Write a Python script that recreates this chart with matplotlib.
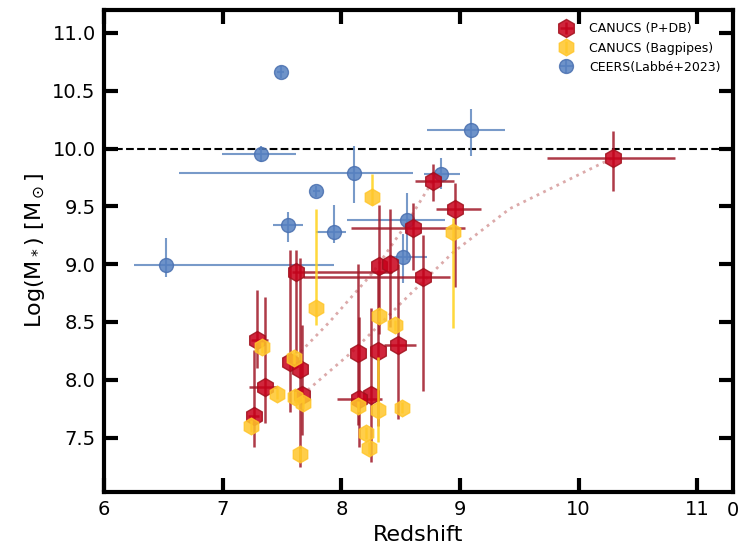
import numpy as np
import matplotlib
matplotlib.use('Agg')
import matplotlib.pyplot as plt

# CANUCS (P+DB)
red_z = [10.29, 8.77, 8.96, 8.60, 8.69, 8.32, 8.41, 7.62, 7.29, 7.36, 7.26, 7.57, 7.65, 7.67, 8.14, 8.31, 8.48, 8.25, 8.15]
red_m = [9.92, 9.72, 9.48, 9.31, 8.89, 8.98, 9.00, 8.93, 8.34, 7.94, 7.69, 8.15, 8.09, 7.87, 8.23, 8.25, 8.30, 7.87, 7.83]
red_zlo = [0.56, 0.15, 0.16, 0.52, 1.01, 0.0, 0.0, 0.04, 0.05, 0.14, 0.05, 0.0, 0.0, 0.0, 0.0, 0.0, 0.12, 0.0, 0.19]
red_zhi = [0.52, 0.18, 0.22, 0.44, 0.23, 0.0, 0.0, 0.81, 0.09, 0.10, 0.05, 0.0, 0.0, 0.0, 0.0, 0.0, 0.15, 0.0, 0.19]
red_mlo = [0.29, 0.17, 0.68, 0.36, 0.99, 0.58, 0.54, 0.70, 0.24, 0.31, 0.27, 0.43, 0.84, 0.35, 0.62, 0.65, 0.64, 0.58, 0.41]
red_mhi = [0.23, 0.15, 0.22, 0.22, 0.36, 0.53, 0.48, 0.19, 0.44, 0.78, 0.57, 0.97, 0.96, 0.60, 0.77, 0.70, 0.70, 0.75, 0.71]

# CANUCS (Bagpipes)
yel_z = [8.26, 8.94, 7.79, 7.33, 7.46, 7.24, 7.60, 7.61, 7.68, 7.65, 8.32, 8.45, 8.14, 8.31, 8.51, 8.21, 8.23]
yel_m = [9.58, 9.28, 8.62, 8.28, 7.88, 7.60, 8.19, 7.85, 7.80, 7.36, 8.55, 8.47, 7.77, 7.74, 7.76, 7.54, 7.41]
yel_mlo = [0.07, 0.83, 0.15, 0.05, 0.05, 0.05, 0.05, 0.05, 0.05, 0.05, 0.05, 0.05, 0.05, 0.28, 0.05, 0.05, 0.05]
yel_mhi = [0.20, 0.12, 0.86, 0.05, 0.05, 0.05, 0.05, 0.05, 0.05, 0.05, 0.05, 0.05, 0.05, 0.46, 0.05, 0.05, 0.05]

# CEERS (Labbe+2023)
blu_z = [7.49, 7.32, 8.11, 7.79, 7.55, 7.94, 6.52, 8.55, 8.52, 8.84, 9.09]
blu_m = [10.66, 9.95, 9.79, 9.63, 9.34, 9.28, 8.99, 9.38, 9.06, 9.78, 10.16]
blu_zlo = [0.03, 0.33, 1.48, 0.03, 0.13, 0.15, 0.27, 0.50, 0.12, 0.14, 0.37]
blu_zhi = [0.03, 0.30, 0.49, 0.03, 0.13, 0.10, 1.42, 0.32, 0.20, 0.16, 0.29]
blu_mlo = [0.05, 0.07, 0.26, 0.05, 0.15, 0.10, 0.10, 0.34, 0.22, 0.13, 0.22]
blu_mhi = [0.05, 0.07, 0.23, 0.05, 0.11, 0.23, 0.24, 0.24, 0.20, 0.14, 0.18]

# dotted growth tracks
trackA_z = [7.57, 7.9, 8.26, 8.55, 8.77]
trackA_m = [8.15, 8.50, 8.92, 9.35, 9.72]
trackB_z = [7.67, 8.1, 8.5, 8.94, 9.42, 10.29]
trackB_m = [7.87, 8.25, 8.66, 9.10, 9.48, 9.92]

fig = plt.figure(figsize=(7.38, 5.46), dpi=100)
ax = fig.add_axes([0.141, 0.099, 0.852, 0.883])

ax.plot(trackA_z, trackA_m, ls=':', lw=2, color='#dcaaaa', zorder=1)
ax.plot(trackB_z, trackB_m, ls=':', lw=2, color='#dcaaaa', zorder=1)

ax.errorbar(red_z, red_m, xerr=[red_zlo, red_zhi], yerr=[red_mlo, red_mhi], fmt='h',
            ms=13, color='#c8001a', mec='#a0101c', ecolor='#a01828', elinewidth=1.8,
            alpha=0.85, label='CANUCS (P+DB)', zorder=3)
ax.errorbar(yel_z, yel_m, yerr=[yel_mlo, yel_mhi], fmt='h', ms=12,
            color='#ffc62a', mec='#ffc62a', ecolor='#ffd21a', elinewidth=1.8,
            alpha=0.85, label='CANUCS (Bagpipes)', zorder=4)
ax.errorbar(blu_z, blu_m, xerr=[blu_zlo, blu_zhi], yerr=[blu_mlo, blu_mhi], fmt='o', ms=10,
            color='#5580c0', mec='#4a70b0', ecolor='#6088c0', elinewidth=1.5,
            alpha=0.85, label='CEERS(Labbé+2023)', zorder=2)

ax.axhline(10.0, color='black', ls='--', lw=1.5, zorder=0)

ax.set_xlim(6.0, 11.3)
ax.set_ylim(7.03, 11.2)
ax.set_xticks([6, 7, 8, 9, 10, 11])
ax.set_yticks([7.5, 8.0, 8.5, 9.0, 9.5, 10.0, 10.5, 11.0])
ax.set_yticklabels(['7.5', '8.0', '8.5', '9.0', '9.5', '10.0', '10.5', '11.0'])
ax.tick_params(direction='in', length=10, width=3, labelsize=14, top=True, right=True, pad=6)
for s in ax.spines.values():
    s.set_linewidth(3)
ax.text(1.0, -0.018, '0', transform=ax.transAxes, fontsize=14, ha='center', va='top')

ax.set_xlabel('Redshift', fontsize=16)
ax.set_ylabel(r'Log(M$_*$) [M$_\odot$]', fontsize=16)

ax.legend(loc='upper right', frameon=False, fontsize=9, handletextpad=0.8, borderaxespad=0.6)

fig.savefig('out.png', dpi=100)
